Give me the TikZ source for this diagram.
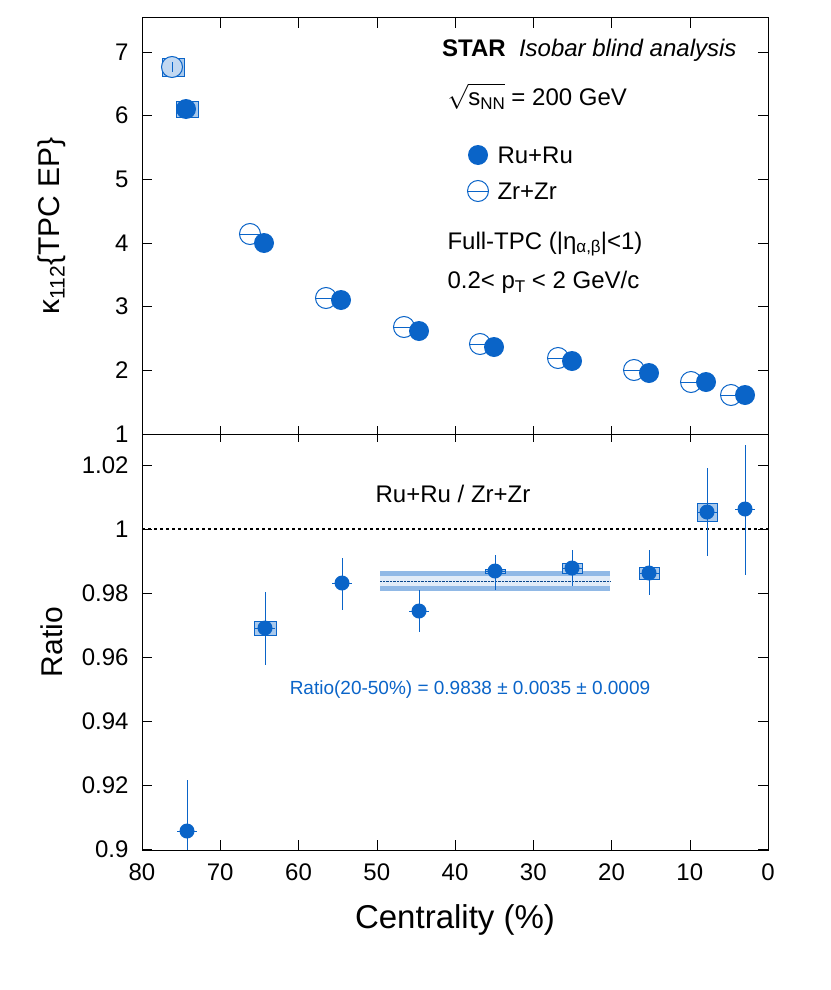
\documentclass[tikz,border=0pt]{standalone}
\usepackage{fontspec}
\setmainfont{Liberation Sans}
\newcommand{\sbs}[1]{\raisebox{-0.3ex}{\fontsize{17}{20}\selectfont #1}}
\begin{document}
\begin{tikzpicture}[x=1pt,y=-1pt,
 every node/.style={font=\fontsize{24}{28}\selectfont},
 ru/.style={circle,fill=myblue,minimum size=20pt,inner sep=0pt},
 zr/.style={circle,draw=myblue,fill=white,line width=1pt,minimum size=21pt,inner sep=0pt},
 rb/.style={circle,fill=myblue,minimum size=15pt,inner sep=0pt},
 sysbox/.style={draw=myblue,fill=myblue!35,line width=0.6pt},
 eb/.style={myblue,line width=1pt}]
\definecolor{myblue}{HTML}{0A64C8}
\useasboundingbox (0,0) rectangle (830,990);
\draw[line width=1pt] (142,18) rectangle (768,850);
\draw[line width=1pt] (142,434) -- (768,434);
\foreach \v in {0,10,...,80}{
 \pgfmathsetmacro\xx{768-\v*7.825}
 \draw (\xx,850) -- (\xx,840); \draw (\xx,18) -- (\xx,28);
 \draw (\xx,434) -- (\xx,426); \draw (\xx,434) -- (\xx,442);
 \node[anchor=north] at (\xx,860) {\v};}
\foreach \v in {1,...,7}{
 \pgfmathsetmacro\yy{434-(\v-1)*63.67}
 \draw (142,\yy) -- (152,\yy); \draw (768,\yy) -- (758,\yy);
 \node[anchor=east] at (132,\yy) {\v};}
\foreach \v/\l in {1.02/1.02,1/1,0.98/0.98,0.96/0.96,0.94/0.94,0.92/0.92,0.9/0.9}{
 \pgfmathsetmacro\yy{529-(\v-1)*3200}
 \draw (142,\yy) -- (152,\yy); \draw (768,\yy) -- (758,\yy);
 \node[anchor=east] at (132,\yy) {\l};}
\node[rotate=90,font=\fontsize{30}{34}\selectfont] (yl1) at (52,226) {κ\raisebox{-0.3ex}{\fontsize{21}{24}\selectfont 112}\{TPC EP\}};
\node[rotate=90,font=\fontsize{30}{34}\selectfont] (yl2) at (52,642) {Ratio};
\node[font=\fontsize{33}{38}\selectfont] (xl) at (455,920) {Centrality (\%)};
\node[anchor=east] (t1) at (740,50) {\textbf{STAR}\ \ \textit{Isobar blind analysis}};
\node[anchor=west] (t2) at (444,96) {$\sqrt{\vphantom{b}\smash{\mbox{s\sbs{NN}}}}$ = 200 GeV};
\node[ru] (lr) at (478,155) {}; \node[anchor=west] (lrt) at (494,155) {Ru+Ru};
\node[zr] (lz) at (478,191) {}; \draw[myblue,line width=1pt] (467,191)--(489,191);
\node[anchor=west] (lzt) at (494,191) {Zr+Zr};
\node[anchor=west] (t3) at (444,244) {Full-TPC (|η\sbs{α,β}|<1)};
\node[anchor=west] (t4) at (444,282) {0.2< p\sbs{T} < 2 GeV/c};
\draw[sysbox] (162,58) rectangle (184,76);
\node[zr,fill=myblue!25] (z0) at (172,67) {}; \draw[eb] (172,62)--(172,72);
\foreach \x/\y in {250/234,326/298,404/327,480/344,558/358,634/370,691/382,731/395}{
 \node[zr] at (\x,\y) {}; \draw[eb] (\x-11,\y)--(\x+11,\y);}
\draw[sysbox] (176,101) rectangle (198,117);
\foreach \x/\y in {186/109,264/243,341/300,419/331,494/347,572/361,649/373,706/382,745/395}{
 \node[ru] at (\x,\y) {};}
\draw[dashed,line width=1.2pt] (142,529) -- (768,529);
\node (rt) at (453,494) {Ru+Ru / Zr+Zr};
\fill[myblue!45] (380,571) rectangle (610,591);
\fill[myblue!12] (380,576) rectangle (610,586);
\draw[densely dotted,myblue!70!black] (380,581) -- (610,581);
\node[myblue,font=\fontsize{19}{22}\selectfont] (rv) at (470,690) {Ratio(20-50\%) = 0.9838 ± 0.0035 ± 0.0009};
\draw[sysbox] (254,621) rectangle (276,635);
\draw[sysbox] (485,569) rectangle (505,573);
\draw[sysbox] (562,563) rectangle (582,573);
\draw[sysbox] (639,567) rectangle (659,579);
\draw[sysbox] (697,503) rectangle (717,521);
\foreach \x/\y/\a/\b in {187/831/780/850,265/628/592/665,342/583/558/610,419/611/590/632,495/571/555/590,572/568/550/586,649/573/550/595,707/512/468/556,745/509/445/575}{
 \draw[eb] (\x,\a)--(\x,\b); \draw[eb] (\x-10,\y)--(\x+10,\y);
 \node[rb] at (\x,\y) {};}
\end{tikzpicture}
\end{document}
